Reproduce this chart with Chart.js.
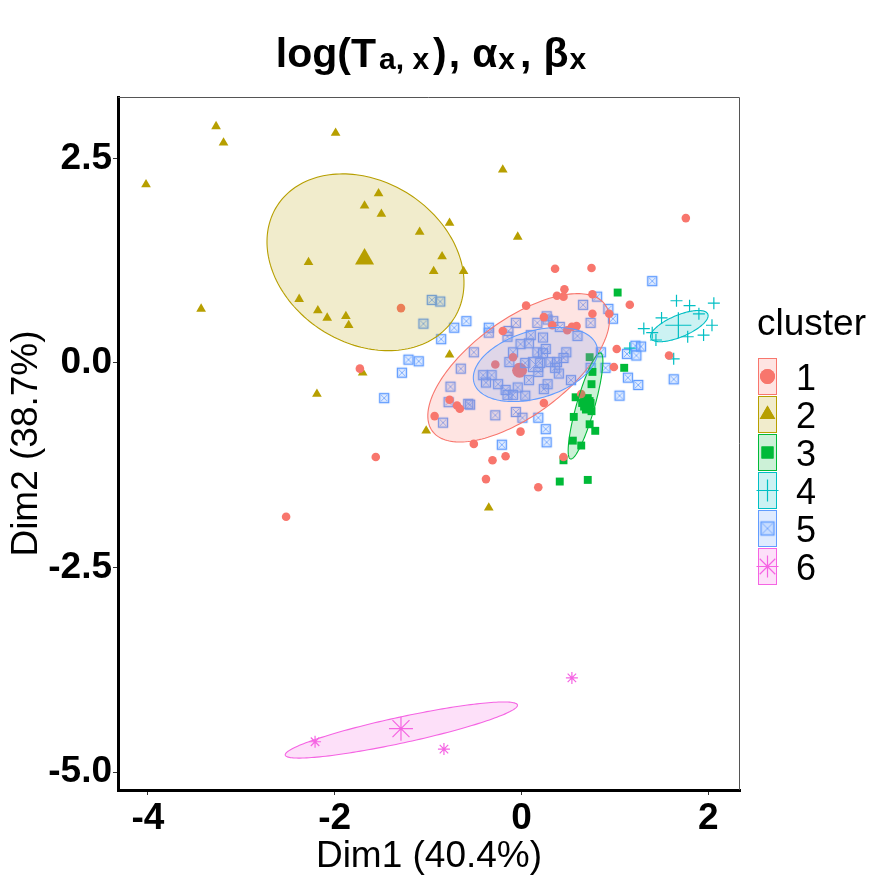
<!DOCTYPE html>
<html><head><meta charset="utf-8">
<script src="https://cdn.jsdelivr.net/npm/chart.js@4.4.0/dist/chart.umd.min.js"></script>
<style>html,body{margin:0;padding:0;background:#fff;}#wrap{width:876px;height:880px;}</style>
</head><body><div id="wrap"><canvas id="c" width="876" height="880"></canvas></div>
<script>
const clusterLabels = ['1','2','3','4','5','6'];
const clusterColors = ['#F8766D','#B79F00','#00BA38','#00BFC4','#619CFF','#F564E3'];

const c1X = [1.76,-2.52,-1.56,-1.29,-1.73,-0.93,-0.77,-0.69,-0.66,-0.51,-0.01,0.24,-0.17,-0.31,-0.38,0.18,0.45,0.64,0.36,0.75,0.46,0.38,0.45,0.76,1.16,0.76,0.94,0.24,0.33,0.54,0.59,0.49,1.02,0.99,1.58,0.05,-0.20,-0.09,-0.28];
const c1Y = [1.77,-1.88,-1.15,0.67,-0.07,-0.65,-0.45,-0.52,-0.56,-0.99,-0.84,-0.49,-1.14,-1.19,-1.42,-1.52,-1.15,-0.38,1.15,1.16,0.90,0.82,0.81,0.84,0.71,0.60,0.60,0.56,0.46,0.44,0.45,0.40,0.17,-0.05,0.09,0.70,0.39,0.07,-0.02];

const c2X = [-4.02,-3.27,-3.19,-1.99,-1.53,-1.68,-1.50,-0.77,-1.09,-0.85,-2.28,-0.94,-0.62,-2.38,-3.43,-2.18,-2.08,-1.88,-1.85,-0.20,-0.04,-0.77,-1.70,-2.19,-1.02,-0.35];
const c2Y = [2.18,2.89,2.69,2.81,2.07,1.92,1.82,1.71,1.60,1.30,1.23,1.12,1.12,0.78,0.66,0.64,0.55,0.57,0.46,2.36,1.54,0.10,-0.12,-0.38,-0.83,-1.77];

const c3X = [1.03,1.10,0.73,0.76,0.75,0.58,0.71,0.65,0.74,0.69,0.75,0.56,0.73,0.79,0.55,0.64,0.45,0.41,0.71];
const c3Y = [0.86,-0.06,0.07,-0.11,-0.26,-0.42,-0.43,-0.49,-0.49,-0.57,-0.59,-0.66,-0.75,-0.83,-0.95,-1.01,-1.19,-1.45,-1.43];

const c4X = [1.66,1.80,2.06,1.90,1.50,2.04,1.31,1.40,1.95,1.78,1.44,1.16,1.63];
const c4Y = [0.76,0.70,0.73,0.60,0.55,0.46,0.42,0.37,0.34,0.32,0.28,0.18,0.05];

const c5X = [-0.96,-0.87,-1.05,-0.59,-0.72,-0.86,-0.35,-0.35,-0.06,0.17,0.27,0.34,-0.14,-0.15,-0.51,0.10,0.23,-0.01,-0.09,-0.13,-0.65,-0.41,-0.32,-0.38,-0.25,-0.76,-1.21,-1.10,-1.28,-1.47,
  0.28,0.41,0.74,0.60,0.08,0.26,0.17,0.23,0.48,0.45,0.38,0.31,0.20,0.18,0.04,0.36,0.40,0.08,0.53,0.28,0.24,-0.17,-0.04,-0.15,-0.09,0.04,-0.55,-0.28,-0.06,0.01,0.74,0.90,0.85,
  -0.78,-0.57,-0.84,0.18,0.26,0.27,-0.21,1.05,1.40,0.81,0.66,0.93,0.98,1.13,1.22,1.28,1.23,1.14,1.25,1.63];
const c5Y = [0.77,0.75,0.48,0.51,0.43,0.29,0.43,0.37,0.49,0.49,0.57,0.51,0.39,0.32,0.13,0.34,0.31,0.23,0.13,0.01,-0.07,-0.15,-0.15,-0.24,-0.26,-0.29,0.04,0.02,-0.12,-0.43,
  0.53,0.44,0.49,0.33,0.24,0.17,0.13,0.12,0.13,0.06,0.01,0.01,0.00,-0.11,0.00,-0.06,-0.13,-0.21,-0.21,-0.26,-0.32,-0.33,-0.30,-0.39,-0.39,-0.40,-0.51,-0.64,-0.60,-0.67,-0.06,-0.06,0.13,
  -0.48,-0.50,-0.73,-0.67,-0.81,-0.97,-1.00,-0.40,1.00,0.81,0.71,0.66,0.54,0.11,0.21,0.20,0.09,-0.18,-0.27,-0.20];

const c6X = [-2.21,-0.83,0.54];
const c6Y = [-4.63,-4.72,-3.85];

const centroidX = [-0.02,-1.68,0.70,1.68,0.15,-1.29];
const centroidY = [-0.09,1.27,-0.50,0.46,-0.02,-4.47];

// confidence ellipses: centre and two conjugate half-axis vectors (data units)
const ellipseCX = [-0.03,-1.67,0.686,1.69,0.15,-1.286];
const ellipseCY = [-0.06,1.23,-0.526,0.45,-0.02,-4.487];
const ellipseUX = [0.924,1.05,0.161,0.305,0.665,1.243];
const ellipseUY = [0.774,-0.15,0.648,0.147,0.147,0.306];
const ellipseVX = [-0.304,-0.10,0.093,-0.046,0.021,0.029];
const ellipseVY = [0.473,1.07,-0.031,0.122,0.428,-0.155];

const xTicks = [-4,-2,0,2];
const xTickLabels = ['-4','-2','0','2'];
const yTicks = [2.5,0,-2.5,-5];
const yTickLabels = ['2.5','0.0','-2.5','-5.0'];

const FONT = "'Liberation Sans', Arial, Helvetica, sans-serif";

function rgba(hex,a){const n=parseInt(hex.slice(1),16);return `rgba(${n>>16&255},${n>>8&255},${n&255},${a})`;}
function makeBox(size,color){
  const cv=document.createElement('canvas');cv.width=size+4;cv.height=size+4;
  const g=cv.getContext('2d');const o=2.5, s=size-1;
  g.fillStyle=rgba(color,0.18);g.fillRect(o,o,s,s);
  g.strokeStyle=color;g.lineWidth=1.4;g.strokeRect(o,o,s,s);
  g.lineWidth=0.9;g.strokeStyle=rgba(color,0.85);
  g.beginPath();g.moveTo(o+1.5,o+1.5);g.lineTo(o+s-1.5,o+s-1.5);g.moveTo(o+s-1.5,o+1.5);g.lineTo(o+1.5,o+s-1.5);g.stroke();
  return cv;
}
const boxSmall = makeBox(10,clusterColors[4]);
const boxBig = makeBox(15,clusterColors[4]);
const boxLegend = makeBox(14,clusterColors[4]);

const styles = [
  {pointStyle:'circle',radius:4.3,big:7.5,leg:7.5,filled:true},
  {pointStyle:'triangle',radius:5.6,big:11,leg:9,filled:true},
  {pointStyle:'rect',radius:5.6,big:9.5,leg:8.5,filled:true},
  {pointStyle:'cross',radius:6,big:13,leg:11,filled:false},
  {pointStyle:boxSmall,radius:5,big:8,leg:7,filled:false,bigStyle:boxBig,legStyle:boxLegend},
  {pointStyle:'star',radius:6,big:12,leg:11,filled:false}
];

const allX=[c1X,c2X,c3X,c4X,c5X,c6X], allY=[c1Y,c2Y,c3Y,c4Y,c5Y,c6Y];
const datasets=[];
for(let i=0;i<6;i++){
  const st=styles[i];
  datasets.push({
    label:clusterLabels[i],
    data:allX[i].map((v,k)=>({x:v,y:allY[i][k]})),
    pointStyle:st.pointStyle,pointRadius:st.radius,
    backgroundColor:clusterColors[i],borderColor:clusterColors[i],
    borderWidth:st.filled?0:1.2,showLine:false
  });
}
for(let i=0;i<6;i++){
  const st=styles[i];
  datasets.push({
    label:'centroid '+clusterLabels[i],
    data:[{x:centroidX[i],y:centroidY[i]}],
    pointStyle:st.bigStyle||st.pointStyle,pointRadius:st.big,
    backgroundColor:clusterColors[i],borderColor:clusterColors[i],
    borderWidth:st.filled?0:1.2,showLine:false
  });
}

const decorPlugin={
  id:'decor',
  afterDatasetsDraw(chart){
    const {ctx,chartArea:a,scales:{x,y}}=chart;
    ctx.save();ctx.beginPath();ctx.rect(a.left,a.top,a.right-a.left,a.bottom-a.top);ctx.clip();
    for(let i=0;i<6;i++){
      ctx.beginPath();
      for(let k=0;k<=180;k++){
        const t=k/180*2*Math.PI;
        const dx=ellipseCX[i]+ellipseUX[i]*Math.cos(t)+ellipseVX[i]*Math.sin(t);
        const dy=ellipseCY[i]+ellipseUY[i]*Math.cos(t)+ellipseVY[i]*Math.sin(t);
        const px=x.getPixelForValue(dx),py=y.getPixelForValue(dy);
        if(k)ctx.lineTo(px,py);else ctx.moveTo(px,py);
      }
      ctx.closePath();
      ctx.fillStyle=rgba(clusterColors[i],0.2);ctx.fill();
      ctx.strokeStyle=clusterColors[i];ctx.lineWidth=1.1;ctx.stroke();
    }
    ctx.restore();
  },
  afterDraw(chart){
    const {ctx,chartArea:a}=chart;
    ctx.save();
    // panel top/right border
    ctx.strokeStyle='#555';ctx.lineWidth=1;
    ctx.beginPath();ctx.moveTo(a.left,a.top+0.5);ctx.lineTo(a.right-0.5,a.top+0.5);ctx.lineTo(a.right-0.5,a.bottom);ctx.stroke();
    // title with subscripts (text, sub?, gap after)
    const segs=[['log(T',0,3],['a, x',1,4],[')',0,2],[',',0,12],['\u03b1',0,1],['x',1,5],[',',0,12],['\u03b2',0,1],['x',1,0]];
    const mainF='bold 41px '+FONT, subF='bold 30px '+FONT;
    let w=0;segs.forEach(s=>{ctx.font=s[1]?subF:mainF;w+=ctx.measureText(s[0]).width+s[2];});
    let cx=431-w/2;const base=67;
    ctx.fillStyle='#000';ctx.textBaseline='alphabetic';ctx.textAlign='left';
    segs.forEach(s=>{ctx.font=s[1]?subF:mainF;ctx.fillText(s[0],cx,base+(s[1]?2:0));cx+=ctx.measureText(s[0]).width+s[2];});
    // axis titles
    ctx.font='37px '+FONT;ctx.textAlign='center';
    ctx.fillText('Dim1 (40.4%)',(a.left+a.right)/2,867);
    ctx.save();ctx.translate(37,(a.top+a.bottom)/2);ctx.rotate(-Math.PI/2);ctx.fillText('Dim2 (38.7%)',0,0);ctx.restore();
    // legend
    ctx.textAlign='left';ctx.font='37px '+FONT;ctx.fillText('cluster',757,335);
    const tops=[358,396,434,472,510,548];
    for(let i=0;i<6;i++){
      const t=tops[i];
      ctx.fillStyle=rgba(clusterColors[i],0.2);ctx.fillRect(758,t,19,37);
      ctx.strokeStyle=clusterColors[i];ctx.lineWidth=1;ctx.strokeRect(758.5,t+0.5,18,36);
      const st=styles[i];
      ctx.fillStyle=clusterColors[i];ctx.strokeStyle=clusterColors[i];ctx.lineWidth=st.filled?0:1.2;
      Chart.helpers.drawPoint(ctx,{pointStyle:st.legStyle||st.pointStyle,radius:st.leg,rotation:0,borderWidth:st.filled?0:1.2},767.5,t+18.5);
      if(st.filled){ctx.fill();}
      ctx.fillStyle='#000';ctx.font='36px '+FONT;ctx.fillText(clusterLabels[i],796,t+32);
    }
    ctx.restore();
  }
};

new Chart(document.getElementById('c'),{
  type:'scatter',
  data:{datasets},
  options:{
    responsive:false,animation:false,devicePixelRatio:1,
    layout:{padding:{top:97,right:136,left:0,bottom:0}},
    plugins:{legend:{display:false},tooltip:{enabled:false},title:{display:false}},
    scales:{
      x:{type:'linear',min:-4.32,max:2.34,
        afterFit(s){s.height=90;},
        afterBuildTicks(s){s.ticks=xTicks.map(v=>({value:v}));},
        ticks:{callback:(v)=>xTickLabels[xTicks.indexOf(v)],font:{family:FONT,size:37,weight:'bold'},color:'#000',padding:2,maxRotation:0,autoSkip:false},
        grid:{display:true,drawOnChartArea:false,drawTicks:true,tickLength:5,color:'#333',lineWidth:1},
        border:{display:true,color:'#000',width:3}},
      y:{type:'linear',min:-5.22,max:3.25,
        afterFit(s){s.width=118;},
        afterBuildTicks(s){s.ticks=yTicks.map(v=>({value:v}));},
        ticks:{callback:(v)=>yTickLabels[yTicks.indexOf(v)],font:{family:FONT,size:37,weight:'bold'},color:'#000',padding:1,autoSkip:false},
        grid:{display:true,drawOnChartArea:false,drawTicks:true,tickLength:5,color:'#333',lineWidth:1},
        border:{display:true,color:'#000',width:3}}
    }
  },
  plugins:[decorPlugin]
});
</script></body></html>
